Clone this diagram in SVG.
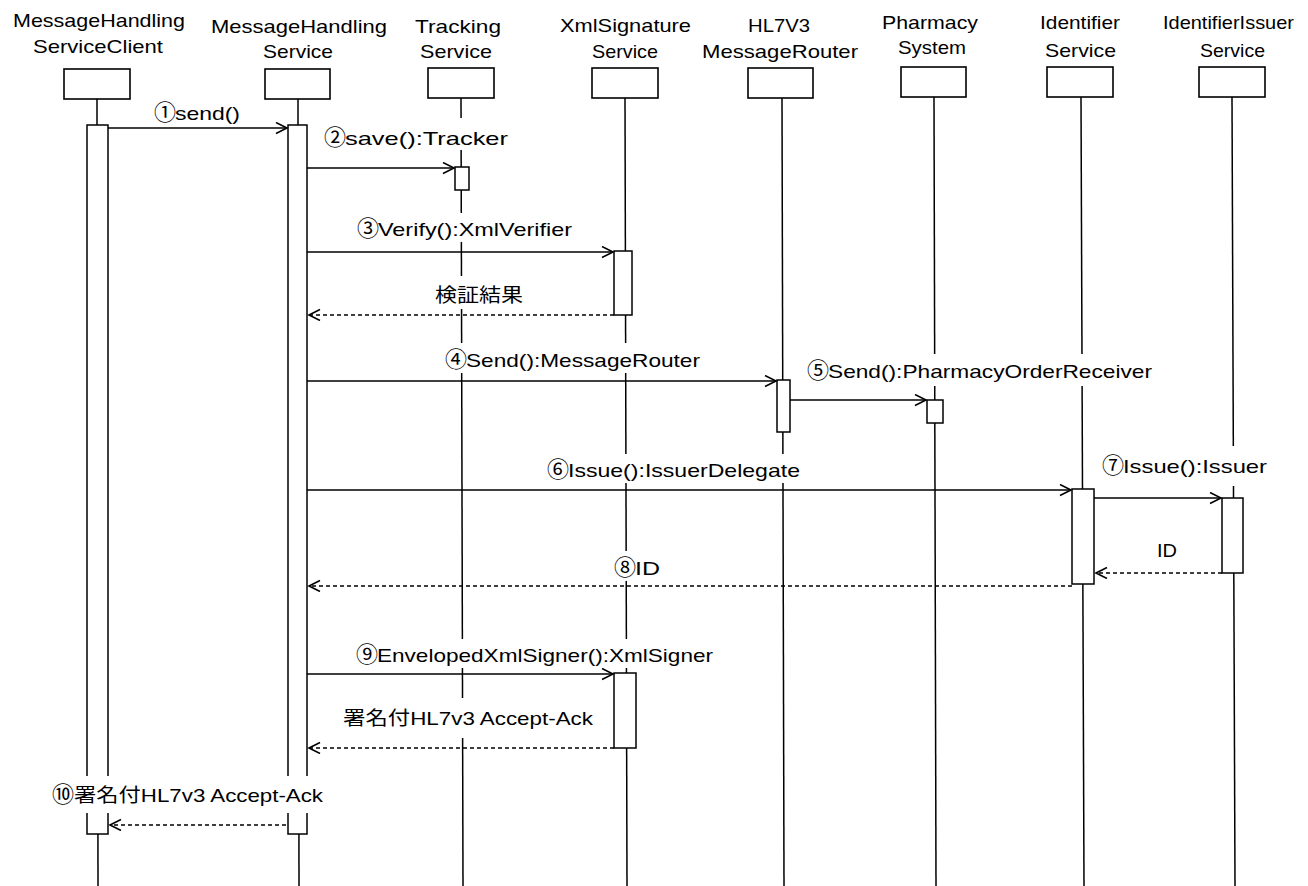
<svg xmlns="http://www.w3.org/2000/svg" width="1308" height="886" viewBox="0 0 1308 886">
<style>
  text { font-family: "Liberation Sans", "Noto Sans CJK JP", sans-serif; font-size: 19px; fill: #000; }
  .cd { font-family: "Noto Sans CJK JP", "DejaVu Sans", sans-serif; font-size: 22px; }
  .box { fill: #fff; stroke: #000; stroke-width: 1.6; }
  .life { stroke: #000; stroke-width: 1.5; fill: none; }
  .act { fill: #fff; stroke: #000; stroke-width: 1.5; }
  .msg { stroke: #000; stroke-width: 1.7; fill: none; marker-end: url(#arr); }
  .ret { stroke: #000; stroke-width: 1.5; fill: none; stroke-dasharray: 4 3; marker-end: url(#arr); }
  .bg { fill: #fff; stroke: none; }
</style>
<defs>
  <marker id="arr" markerUnits="userSpaceOnUse" markerWidth="14" markerHeight="14" refX="12" refY="6" orient="auto">
    <path d="M1,0.5 L12,6 L1,11.5" fill="none" stroke="#000" stroke-width="1.6"/>
  </marker>
</defs>
<rect width="1308" height="886" fill="#fff"/>

<g id="node-client">
  <text x="13" y="27" textLength="172" lengthAdjust="spacingAndGlyphs">MessageHandling</text>
  <text x="33" y="53" textLength="130" lengthAdjust="spacingAndGlyphs">ServiceClient</text>
  <rect class="box" x="64" y="69" width="66" height="30"/>
  <line class="life" x1="97" y1="99" x2="98" y2="886"/>
  <rect class="act" x="87" y="125" width="21" height="709"/>
</g>
<g id="node-mhs">
  <text x="211" y="33" textLength="176" lengthAdjust="spacingAndGlyphs">MessageHandling</text>
  <text x="263" y="58" textLength="70" lengthAdjust="spacingAndGlyphs">Service</text>
  <rect class="box" x="265" y="69" width="65" height="30"/>
  <line class="life" x1="298" y1="99" x2="299" y2="886"/>
  <rect class="act" x="288" y="125" width="19" height="709"/>
</g>
<g id="node-tracking">
  <text x="415" y="33" textLength="86" lengthAdjust="spacingAndGlyphs">Tracking</text>
  <text x="420" y="58" textLength="72" lengthAdjust="spacingAndGlyphs">Service</text>
  <rect class="box" x="428" y="68" width="66" height="30"/>
  <line class="life" x1="461" y1="98" x2="463" y2="886"/>
  <rect class="act" x="455" y="167" width="14" height="23"/>
</g>
<g id="node-xmlsig">
  <text x="560" y="32" textLength="131" lengthAdjust="spacingAndGlyphs">XmlSignature</text>
  <text x="592" y="58" textLength="66" lengthAdjust="spacingAndGlyphs">Service</text>
  <rect class="box" x="592" y="68" width="66" height="30"/>
  <line class="life" x1="625" y1="98" x2="627" y2="886"/>
  <rect class="act" x="614" y="251" width="18" height="64"/>
  <rect class="act" x="614" y="673" width="22" height="75"/>
</g>
<g id="node-hl7">
  <text x="748" y="32" textLength="62" lengthAdjust="spacingAndGlyphs">HL7V3</text>
  <text x="702" y="58" textLength="156" lengthAdjust="spacingAndGlyphs">MessageRouter</text>
  <rect class="box" x="748" y="68" width="65" height="30"/>
  <line class="life" x1="782" y1="98" x2="784" y2="886"/>
  <rect class="act" x="777" y="380" width="13" height="52"/>
</g>
<g id="node-pharmacy">
  <text x="882" y="29" textLength="96" lengthAdjust="spacingAndGlyphs">Pharmacy</text>
  <text x="898" y="54" textLength="68" lengthAdjust="spacingAndGlyphs">System</text>
  <rect class="box" x="901" y="67" width="65" height="30"/>
  <line class="life" x1="934" y1="97" x2="936" y2="886"/>
  <rect class="act" x="927" y="400" width="16" height="23"/>
</g>
<g id="node-identifier">
  <text x="1040" y="29" textLength="80" lengthAdjust="spacingAndGlyphs">Identifier</text>
  <text x="1045" y="57" textLength="71" lengthAdjust="spacingAndGlyphs">Service</text>
  <rect class="box" x="1047" y="67" width="66" height="30"/>
  <line class="life" x1="1081" y1="97" x2="1084" y2="886"/>
  <rect class="act" x="1072" y="489" width="22" height="95"/>
</g>
<g id="node-issuer">
  <text x="1163" y="29" textLength="131" lengthAdjust="spacingAndGlyphs">IdentifierIssuer</text>
  <text x="1200" y="57" textLength="65" lengthAdjust="spacingAndGlyphs">Service</text>
  <rect class="box" x="1199" y="67" width="66" height="30"/>
  <line class="life" x1="1232" y1="97" x2="1235" y2="886"/>
  <rect class="act" x="1222" y="498" width="21" height="75"/>
</g>

<g id="connectors">
  <rect class="bg" x="150" y="102" width="95" height="23"/>
  <rect class="bg" x="322" y="118" width="190" height="32"/>
  <rect class="bg" x="355" y="213" width="220" height="29"/>
  <rect class="bg" x="432" y="276" width="94" height="33"/>
  <rect class="bg" x="443" y="343" width="260" height="30"/>
  <rect class="bg" x="805" y="354" width="350" height="32"/>
  <rect class="bg" x="545" y="454" width="258" height="29"/>
  <rect class="bg" x="1100" y="446" width="170" height="40"/>
  <rect class="bg" x="1154" y="538" width="26" height="24"/>
  <rect class="bg" x="612" y="551" width="52" height="30"/>
  <rect class="bg" x="354" y="639" width="362" height="29"/>
  <rect class="bg" x="340" y="698" width="256" height="40"/>
  <rect class="bg" x="50" y="776" width="276" height="37"/>

  <line class="msg" x1="108" y1="128" x2="287" y2="128"/>
  <line class="msg" x1="307" y1="168" x2="454" y2="168"/>
  <line class="msg" x1="307" y1="252" x2="613" y2="252"/>
  <line class="ret" x1="614" y1="315" x2="309" y2="315"/>
  <line class="msg" x1="307" y1="381" x2="776" y2="381"/>
  <line class="msg" x1="790" y1="400" x2="926" y2="400"/>
  <line class="msg" x1="307" y1="490" x2="1071" y2="490"/>
  <line class="msg" x1="1094" y1="498" x2="1221" y2="498"/>
  <line class="ret" x1="1222" y1="573" x2="1096" y2="573"/>
  <line class="ret" x1="1072" y1="586" x2="309" y2="586"/>
  <line class="msg" x1="307" y1="674" x2="613" y2="674"/>
  <line class="ret" x1="614" y1="748" x2="309" y2="748"/>
  <line class="ret" x1="286" y1="825" x2="110" y2="825"/>

  <text x="155" y="120"><tspan class="cd" x="154">①</tspan><tspan x="175" textLength="65" lengthAdjust="spacingAndGlyphs">send()</tspan></text>
  <text x="325" y="145"><tspan class="cd" x="324">②</tspan><tspan x="345" textLength="163" lengthAdjust="spacingAndGlyphs">save():Tracker</tspan></text>
  <text x="358" y="236"><tspan class="cd" x="357">③</tspan><tspan x="378" textLength="194" lengthAdjust="spacingAndGlyphs">Verify():XmlVerifier</tspan></text>
  <text x="435" y="302" textLength="88" lengthAdjust="spacingAndGlyphs">検証結果</text>
  <text x="446" y="367"><tspan class="cd" x="445">④</tspan><tspan x="466" textLength="234" lengthAdjust="spacingAndGlyphs">Send():MessageRouter</tspan></text>
  <text x="808" y="378"><tspan class="cd" x="807">⑤</tspan><tspan x="828" textLength="324" lengthAdjust="spacingAndGlyphs">Send():PharmacyOrderReceiver</tspan></text>
  <text x="548" y="477"><tspan class="cd" x="547">⑥</tspan><tspan x="568" textLength="232" lengthAdjust="spacingAndGlyphs">Issue():IssuerDelegate</tspan></text>
  <text x="1103" y="473"><tspan class="cd" x="1102">⑦</tspan><tspan x="1123" textLength="144" lengthAdjust="spacingAndGlyphs">Issue():Issuer</tspan></text>
  <text x="1157" y="557" textLength="20" lengthAdjust="spacingAndGlyphs">ID</text>
  <text x="615" y="575"><tspan class="cd" x="614">⑧</tspan><tspan x="635" textLength="25" lengthAdjust="spacingAndGlyphs">ID</tspan></text>
  <text x="357" y="662"><tspan class="cd" x="356">⑨</tspan><tspan x="377" textLength="336" lengthAdjust="spacingAndGlyphs">EnvelopedXmlSigner():XmlSigner</tspan></text>
  <text x="343" y="725" textLength="250" lengthAdjust="spacingAndGlyphs">署名付HL7v3 Accept-Ack</text>
  <text x="53" y="802"><tspan class="cd" x="52">⑩</tspan><tspan x="74" textLength="249" lengthAdjust="spacingAndGlyphs">署名付HL7v3 Accept-Ack</tspan></text>
</g>
</svg>
